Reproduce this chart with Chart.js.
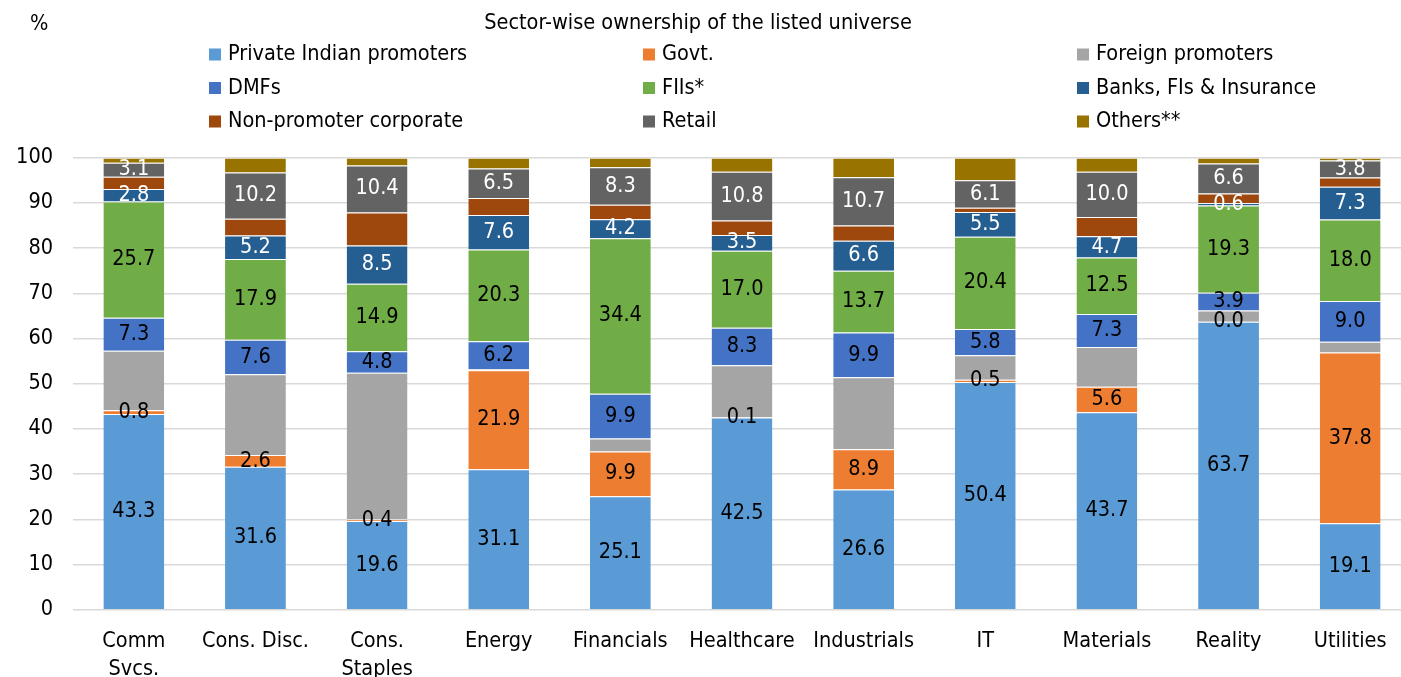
<!DOCTYPE html>
<html>
<head>
<meta charset="utf-8">
<script src="https://cdn.jsdelivr.net/npm/chart.js@4"></script>
<style>
  html, body { margin: 0; padding: 0; background: #fff; overflow: hidden; }
  #ownershipChart { display: block; }
</style>
</head>
<body>
<canvas id="ownershipChart" width="1411" height="677"></canvas>
<script>
const FONT = "'DejaVu Sans Condensed', 'DejaVu Sans', sans-serif";
const FONT_SIZE = 21.5;

const sectors = [['Comm', 'Svcs.'], 'Cons. Disc.', ['Cons.', 'Staples'], 'Energy', 'Financials',
    'Healthcare', 'Industrials', 'IT', 'Materials', 'Reality', 'Utilities'];
const yTicks = [0, 10, 20, 30, 40, 50, 60, 70, 80, 90, 100];

// shares in %, bottom of the stack first
const privateIndian = [43.3, 31.6, 19.6, 31.1, 25.1, 42.5, 26.6, 50.4, 43.7, 63.7, 19.1];
const govt          = [0.8, 2.6, 0.4, 21.9, 9.9, 0.1, 8.9, 0.5, 5.6, 0.0, 37.8];
const foreignProm   = [13.2, 17.9, 32.4, 0.2, 2.9, 11.5, 15.9, 5.4, 8.8, 2.5, 2.4];
const dmfs          = [7.3, 7.6, 4.8, 6.2, 9.9, 8.3, 9.9, 5.8, 7.3, 3.9, 9.0];
const fiis          = [25.7, 17.9, 14.9, 20.3, 34.4, 17.0, 13.7, 20.4, 12.5, 19.3, 18.0];
const banksFis      = [2.8, 5.2, 8.5, 7.6, 4.2, 3.5, 6.6, 5.5, 4.7, 0.6, 7.3];
const nonPromoter   = [2.7, 3.7, 7.3, 3.8, 3.2, 3.2, 3.4, 0.9, 4.3, 2.1, 2.0];
const retail        = [3.1, 10.2, 10.4, 6.5, 8.3, 10.8, 10.7, 6.1, 10.0, 6.6, 3.8];
const others        = [1.1, 3.3, 1.7, 2.4, 2.1, 3.1, 4.3, 5.0, 3.1, 1.3, 0.6];

function series(label, data, color, labelColor) {
    return {
        label: label,
        data: data,
        backgroundColor: color,
        borderColor: 'rgba(255,255,255,0.45)',
        borderWidth: { top: 1, bottom: 0, left: 0, right: 0 },
        borderSkipped: false,
        labelColor: labelColor,
        stack: 'all'
    };
}

// values written in the middle of each segment
const segmentLabels = {
    id: 'segmentLabels',
    afterDatasetsDraw(chart) {
        const ctx = chart.ctx;
        ctx.save();
        ctx.font = FONT_SIZE + 'px ' + FONT;
        ctx.textAlign = 'center';
        ctx.textBaseline = 'middle';
        chart.data.datasets.forEach((ds, i) => {
            if (!ds.labelColor) return;
            ctx.fillStyle = ds.labelColor;
            chart.getDatasetMeta(i).data.forEach((bar, j) => {
                const p = bar.getProps(['x', 'y', 'base'], true);
                ctx.fillText(ds.data[j].toFixed(1), p.x, (p.y + p.base) / 2);
            });
        });
        ctx.restore();
    }
};

// header text and the 3 x 3 legend
const headerLegend = {
    id: 'headerLegend',
    afterDraw(chart) {
        const ctx = chart.ctx;
        ctx.save();
        ctx.font = FONT_SIZE + 'px ' + FONT;
        ctx.textBaseline = 'middle';
        ctx.fillStyle = '#000';
        ctx.textAlign = 'left';
        ctx.fillText('%', 30, 24);
        ctx.textAlign = 'center';
        ctx.fillText('Sector-wise ownership of the listed universe', 698, 23);

        ctx.textAlign = 'left';
        chart.data.datasets.forEach((ds, i) => {
            const x = 209 + (i % 3) * 434;
            const y = 54.5 + Math.floor(i / 3) * 33.5;
            ctx.fillStyle = ds.backgroundColor;
            ctx.fillRect(x, y - 6, 12, 12);
            ctx.fillStyle = '#000';
            ctx.fillText(ds.label, x + 19, y);
        });
        ctx.restore();
    }
};

new Chart(document.getElementById('ownershipChart'), {
    type: 'bar',
    data: {
        labels: sectors,
        datasets: [
            series('Private Indian promoters', privateIndian, '#5B9BD5', '#000'),
            series('Govt.', govt, '#ED7D31', '#000'),
            series('Foreign promoters', foreignProm, '#A5A5A5', null),
            series('DMFs', dmfs, '#4472C4', '#000'),
            series('FIIs*', fiis, '#70AD47', '#000'),
            series('Banks, FIs & Insurance', banksFis, '#255E91', '#fff'),
            series('Non-promoter corporate', nonPromoter, '#9E480E', null),
            series('Retail', retail, '#636363', '#fff'),
            series('Others**', others, '#997300', null)
        ]
    },
    options: {
        responsive: false,
        animation: false,
        events: [],
        datasets: { bar: { categoryPercentage: 1, barPercentage: 0.5 } },
        layout: { padding: { top: 157.7, left: 0, right: 0, bottom: 0 } },
        plugins: {
            legend: { display: false },
            title: { display: false },
            tooltip: { enabled: false }
        },
        scales: {
            x: {
                stacked: true,
                grid: { display: false },
                border: { display: false },
                ticks: {
                    color: '#000',
                    font: { family: FONT, size: FONT_SIZE, lineHeight: 1.3 },
                    padding: 10,
                    autoSkip: false,
                    maxRotation: 0
                },
                afterFit: (scale) => { scale.height = 67.3; }
            },
            y: {
                stacked: true,
                min: 0,
                max: 100,
                afterBuildTicks: (scale) => { scale.ticks = yTicks.map(v => ({ value: v })); },
                grid: { color: '#D9D9D9', lineWidth: 1.6, drawTicks: false },
                border: { display: false },
                ticks: {
                    color: '#000',
                    font: { family: FONT, size: FONT_SIZE },
                    padding: 20
                },
                afterFit: (scale) => { scale.width = 73; }
            }
        }
    },
    plugins: [segmentLabels, headerLegend]
});
</script>
</body>
</html>
